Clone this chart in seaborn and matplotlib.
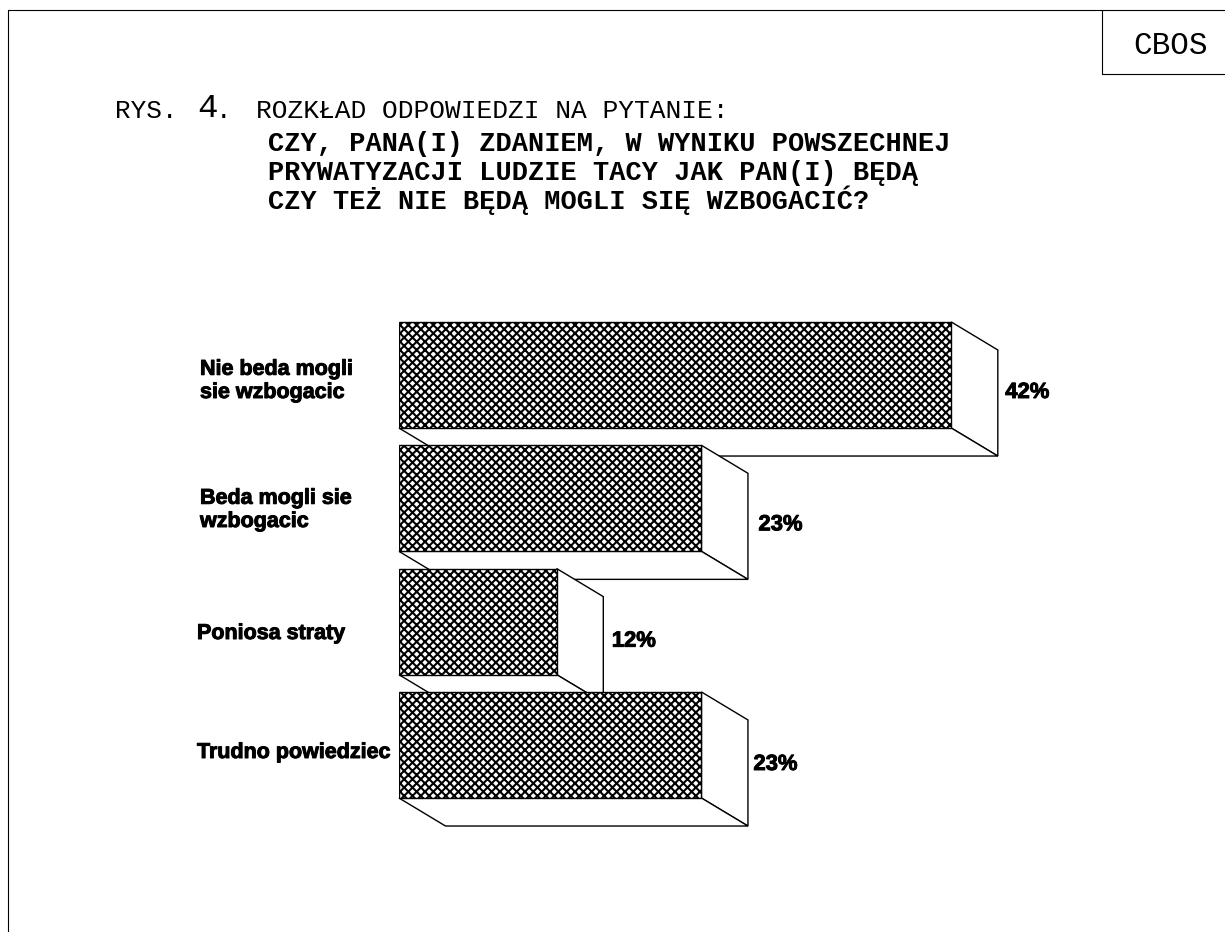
import matplotlib
matplotlib.use('Agg')
import matplotlib.pyplot as plt
import seaborn as sns
from matplotlib.lines import Line2D
from matplotlib.patches import Polygon
from matplotlib import patheffects as pe

categories = ['Nie beda mogli\nsie wzbogacic', 'Beda mogli sie\nwzbogacic', 'Poniosa straty', 'Trudno powiedziec']
values = [42, 23, 12, 23]
value_labels = ['42%', '23%', '12%', '23%']

W, H = 1225, 932
sns.set_theme(style='white')
plt.rcParams['hatch.linewidth'] = 1.5
plt.rcParams['hatch.color'] = 'black'

fig = plt.figure(figsize=(W / 100, H / 100), dpi=100)
fx = lambda x: x / W
fy = lambda y: 1 - y / H
px = lambda p: p * 0.72  # px to pt


def ftext(x, y, s, size, weight='normal', family='Liberation Mono', **kw):
    fig.text(fx(x), fy(y), s, fontsize=px(size), fontweight=weight, family=family,
             color='black', va='baseline', **kw)


# axes: 13.15 px per percent, 123.3 px per category, first bar centred at y=375
ax_left, ax_right, ax_top, ax_bottom = 399, 1225, 300, 850
scale_x, scale_y, first_y = 13.15, 123.33, 375
ax = fig.add_axes([fx(ax_left), fy(ax_bottom), (ax_right - ax_left) / W, (ax_bottom - ax_top) / H])
sns.barplot(x=values, y=categories, orient='h', color='white', edgecolor='black',
            linewidth=1, width=0.86, saturation=1, ax=ax)
ax.set_xlim(0, (ax_right - ax_left) / scale_x)
ax.set_ylim((ax_bottom - first_y) / scale_y, (ax_top - first_y) / scale_y)
ax.axis('off')

# 3D depth, drawn back to front
dx, dy = 46.5 / scale_x, 28 / scale_y
for i, bar in enumerate(ax.patches):
    bar.set_hatch('xxxx')
    bar.set_zorder(4 + 2 * i)
    x1 = bar.get_width()
    top = bar.get_y()
    bot = top + bar.get_height()
    side = [(x1, top), (x1 + dx, top + dy), (x1 + dx, bot + dy), (x1, bot)]
    floor = [(0, bot), (dx, bot + dy), (x1 + dx, bot + dy), (x1, bot)]
    for pts in (side, floor):
        ax.add_patch(Polygon(pts, closed=True, facecolor='white', edgecolor='black',
                             linewidth=1, zorder=3 + 2 * i, clip_on=False))

# category labels: left edge and baseline of last line in pixels
label_pos = [(200, 398), (200, 527), (197, 639), (197, 758)]
for txt, (x, y) in zip(categories, label_pos):
    fig.text(fx(x), fy(y), txt, fontsize=px(21.5), fontweight='bold', family='Liberation Sans',
             va='baseline', ha='left', linespacing=1.28, color='black',
             path_effects=[pe.withStroke(linewidth=0.7, foreground='black')])

# value labels sit beside the bars at slightly different offsets
value_off = [(54, 23), (57, 32), (55, 25), (52, 25)]
for bar, lab, (ox, oy) in zip(ax.patches, value_labels, value_off):
    cx = bar.get_width()
    cy = bar.get_y()
    ax.annotate(lab, xy=(cx, cy + bar.get_height() / 2), xytext=(px(ox), -px(oy)),
                textcoords='offset points', fontsize=px(22), fontweight='bold',
                family='Liberation Sans', va='baseline', ha='left', color='black',
                path_effects=[pe.withStroke(linewidth=0.7, foreground='black')])

# page frame
frame = dict(color='black', linewidth=0.8, transform=fig.transFigure)
fig.add_artist(Line2D([fx(8), 1], [fy(10), fy(10)], **frame))
fig.add_artist(Line2D([fx(8), fx(8)], [fy(10), 0], **frame))
fig.add_artist(Line2D([fx(1102), fx(1102)], [fy(10), fy(74)], **frame))
fig.add_artist(Line2D([fx(1102), 1], [fy(74), fy(74)], **frame))
ftext(1133, 54, 'CBOS', 31)

# title block
ftext(115, 118, 'RYS.', 26)
ftext(197, 117, '4', 34)
ftext(216, 118, '.', 26)
ftext(256, 118, 'ROZKŁAD ODPOWIEDZI NA PYTANIE:', 26.2)
ftext(268, 151, 'CZY, PANA(I) ZDANIEM, W WYNIKU POWSZECHNEJ', 27, weight='bold')
ftext(268, 180, 'PRYWATYZACJI LUDZIE TACY JAK PAN(I) BĘDĄ', 27, weight='bold')
ftext(268, 209, 'CZY TEŻ NIE BĘDĄ MOGLI SIĘ WZBOGACIĆ?', 27, weight='bold')

fig.savefig('out.png', dpi=100, facecolor='white')
